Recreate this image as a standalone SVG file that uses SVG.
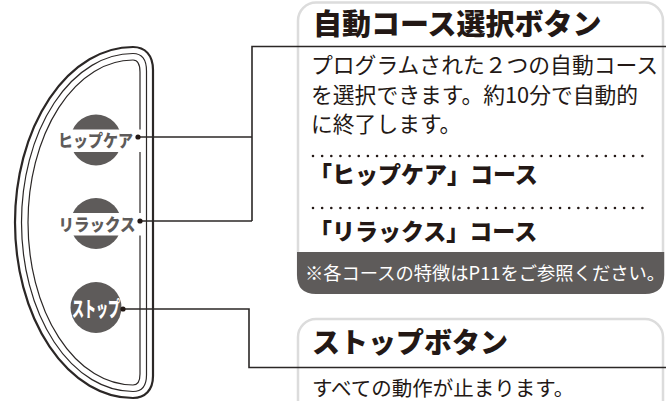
<svg xmlns="http://www.w3.org/2000/svg" width="666" height="401" viewBox="0 0 666 401">
<style>
text{font-family:"Noto Sans CJK JP","Noto Sans",sans-serif}
.conn{fill:none;stroke:#2b2726;stroke-width:1.6}
.dot{fill:#231815}
.outl{fill:none;stroke:#2b2726}
.btn{fill:#5e5b5a}
.btxt{font-weight:900;fill:#5e5b5a;font-size:16.5px;text-anchor:middle}
.box{fill:#fff;stroke:#dcdcdc;stroke-width:2.5}
.h{font-weight:900;fill:#231815}
.b{font-weight:400;fill:#231815}
.dots{fill:none;stroke:#231815;stroke-width:2.6;stroke-linecap:round;stroke-dasharray:0 9.15}
</style>
<g id="panel">
<path class="outl" stroke-width="2.2" d="M133 47 C145 47 153 55 153 70 L153 376 C153 390 145 398 133 398 A118 175.5 0 0 1 133 47 Z"/>
<path class="outl" stroke-width="1.2" d="M133 53.5 C142 53.5 146.5 59 146.5 71 L146.5 375 C146.5 386 142 391.5 133 391.5 A111.5 169 0 0 1 133 53.5 Z"/>
<path class="outl" stroke-width="1.2" d="M133 60 C138 60 140 64 140 72 L140 374 C140 381 138 385 133 385 A105 162.5 0 0 1 133 60 Z"/>
</g>
<g id="box-auto">
<rect class="box" x="298" y="2.5" width="365" height="290" rx="18"/>
<path fill="#5e5b5a" d="M297 252 H664.2 V275 Q664.2 294 645 294 H316 Q297 294 297 275 Z"/>
<text class="h" x="313" y="35" font-size="29">自動コース選択ボタン</text>
<text class="b" font-size="21.8" x="311"><tspan x="311" y="73">プログラムされた２つの自動コース</tspan><tspan x="311" y="103">を選択できます。約10分で自動的</tspan><tspan x="311" y="132">に終了します。</tspan></text>
<line class="dots" x1="313" y1="156" x2="651" y2="156"/>
<text class="h" x="309" y="183" font-size="23">「ヒップケア」コース</text>
<line class="dots" x1="313" y1="208" x2="651" y2="208"/>
<text class="h" x="309" y="240" font-size="23">「リラックス」コース</text>
<text x="305" y="280" font-size="18.3" fill="#fff">※各コースの特徴はP11をご参照ください。</text>
</g>
<g id="box-stop">
<rect class="box" x="298" y="319" width="365" height="120" rx="18"/>
<text class="h" x="312" y="353" font-size="28">ストップボタン</text>
<text class="b" x="312" y="396" font-size="20.5">すべての動作が止まります。</text>
</g>
<g id="btn-hipcare">
<circle class="btn" cx="96" cy="140" r="25.5"/>
<rect fill="#fff" x="55" y="129.5" width="86" height="22.5"/>
<text class="btxt" x="95.5" y="147" textLength="75" lengthAdjust="spacingAndGlyphs">ヒップケア</text>
</g>
<g id="btn-relax">
<circle class="btn" cx="96" cy="223.5" r="25.5"/>
<rect fill="#fff" x="55" y="213" width="86" height="22.5"/>
<text class="btxt" x="97" y="231" textLength="77" lengthAdjust="spacingAndGlyphs">リラックス</text>
</g>
<g id="btn-stop">
<circle class="btn" cx="96" cy="307.5" r="25.5"/>
<text x="96" y="315.5" font-size="21" font-weight="900" fill="#fff" text-anchor="middle" textLength="48" lengthAdjust="spacingAndGlyphs">ストップ</text>
</g>
<g id="connectors">
<polyline class="conn" points="138,137 252,137"/>
<polyline class="conn" points="140,221 252,221"/>
<polyline class="conn" points="252,221 252,46.5 666,46.5"/>
<polyline class="conn" points="123,309 249,309 249,367.5 666,367.5"/>
<circle class="dot" cx="138" cy="137" r="2.6"/>
<circle class="dot" cx="140" cy="221" r="2.6"/>
<circle class="dot" cx="123" cy="309" r="2.6"/>
</g>
</svg>
